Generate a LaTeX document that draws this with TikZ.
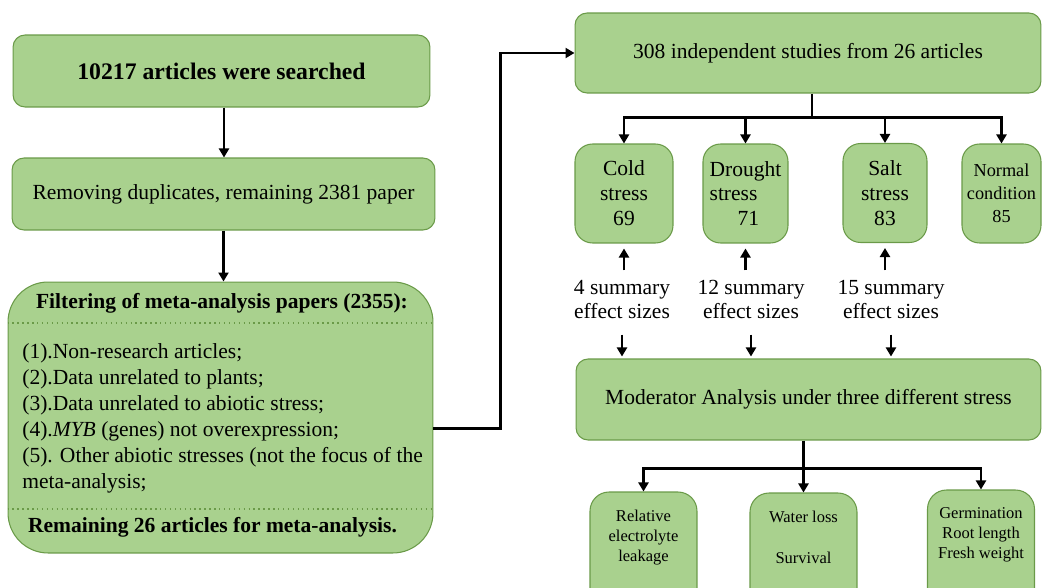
\documentclass[tikz,border=0pt]{standalone}
\usepackage{fontspec}
\setmainfont{Liberation Serif}
\usetikzlibrary{arrows.meta}
\definecolor{boxfill}{HTML}{A9D18E}
\definecolor{boxedge}{HTML}{6A9A48}
\tikzset{
    box/.style={draw=boxedge, fill=boxfill, line width=0.6pt, rounded corners=0.24cm, align=center, inner sep=0pt, font=\fontsize{12.25}{14.2}\selectfont},
    stressbox/.style={box, rounded corners=0.35cm, minimum height=1.98cm},
    leaf/.style={box, rounded corners=0.38cm, minimum width=2.14cm, minimum height=2.56cm},
    txt/.style={align=center, inner sep=0pt, font=\fontsize{12.25}{14.2}\selectfont},
    arr/.style={line width=1.2pt, -{Triangle[length=1.8mm, width=2mm]}},
    bus/.style={line width=1.6pt},
}
\begin{document}
\begin{tikzpicture}[x=0.02cm, y=-0.02cm]
        %\draw[lightgray] (0, 0) grid[step=50] (1042, 588);
        \path[use as bounding box, clip] (0, 0) rectangle (1042, 588);
        \node[box, minimum width=8.34cm, minimum height=1.44cm, font=\bfseries\fontsize{13.5}{16}\selectfont] (search) at (221.5, 71) {10217 articles were searched};
        \node[box, minimum width=8.46cm, minimum height=1.44cm] (dup) at (223.5, 194) {Removing duplicates, remaining 2381 paper};
        \node[box, rounded corners=0.8cm, minimum width=8.5cm, minimum height=5.42cm] (filter) at (220.5, 417.5) {};
        \draw[boxedge, dotted, line width=0.8pt] (filter.west |- 0, 323) -- (filter.east |- 0, 323);
        \draw[boxedge, dotted, line width=0.8pt] (filter.west |- 0, 509) -- (filter.east |- 0, 509);
        \node[txt, font=\bfseries\fontsize{12.25}{14}\selectfont] (filtertitle) at (222, 303) {Filtering of meta-analysis papers (2355):};
        \node[txt, align=left, anchor=west, font=\fontsize{12.25}{14.8}\selectfont] (filterlist) at (22, 418) {(1).Non-research articles;\\(2).Data unrelated to plants;\\(3).Data unrelated to abiotic stress;\\(4).\textit{MYB} (genes) not overexpression;\\(5). Other abiotic stresses (not the focus of the\\meta-analysis;};
        \node[txt, font=\bfseries\fontsize{12.25}{14}\selectfont] (remaining) at (212.5, 527) {Remaining 26 articles for meta-analysis.};
        \draw[arr] ([xshift=0.05cm]search.south) -- ([xshift=0.05cm]search.south |- dup.north);
        \draw[arr] (dup.south) -- (dup.south |- filter.north);

        \node[box, minimum width=9.32cm, minimum height=1.6cm] (studies) at (808, 53) {308 independent studies from 26 articles};
        \draw[arr] ([yshift=-0.22cm]filter.east) -- ++(67, 0) |- (studies.west);
        \node[stressbox, minimum width=1.96cm] (cold) at (624, 193.5) {Cold\\stress\\69};
        \node[stressbox, minimum width=1.7cm, align=left] (drought) at (745.5, 193.5) {Drought\\stress\\\hspace*{1.3em}71};
        \node[stressbox, minimum width=1.68cm] (salt) at (885, 193) {Salt\\stress\\83};
        \node[stressbox, minimum width=1.58cm, font=\fontsize{10.4}{13.1}\selectfont] (normal) at (1001.5, 193.5) {Normal\\condition\\85};
        \draw[bus] ([xshift=0.08cm]studies.south) -- ++(0, 24) coordinate (split);
        \foreach \n in {cold, drought, salt, normal}
            \draw[arr, line width=1.6pt] (split) -| (\n.north);

        \node[txt] (coldlab) at (622, 299.5) {4 summary\\effect sizes};
        \node[txt] (droughtlab) at (751, 299.5) {12 summary\\effect sizes};
        \node[txt] (saltlab) at (891, 299.5) {15 summary\\effect sizes};
        \node[box, minimum width=9.3cm, minimum height=1.62cm] (moderator) at (808.5, 399.5) {Moderator Analysis under three different stress};
        \foreach \n in {cold, drought, salt} {
            \draw[arr, line width=1.5pt, shorten <=0.18cm, shorten >=0.1cm] (\n.south |- \n lab.north) -- (\n.south);
            \draw[arr, line width=1.5pt, shorten <=0.3cm, shorten >=0.04cm] (\n lab.south) -- (\n lab.south |- moderator.north);
        }

        \node[leaf] (relbox) at (643.5, 556) {};
        \node[leaf] (waterbox) at (803.5, 557) {};
        \node[leaf] (germbox) at (981, 554) {};
        \node[txt, font=\fontsize{9.4}{11.4}\selectfont] (reltext) at (643.5, 538) {Relative\\electrolyte\\leakage};
        \node[txt, font=\fontsize{9.4}{11.4}\selectfont] (watertext) at (803.5, 537.5) {Water loss\\[11.9pt]Survival};
        \node[txt, font=\fontsize{9.4}{11.4}\selectfont] (germtext) at (981, 535) {Germination\\Root length\\Fresh weight};
        \draw[bus] ([xshift=-0.1cm]moderator.south) -- ++(0, 28) coordinate (split2);
        \foreach \n in {relbox, waterbox, germbox}
            \draw[arr, line width=1.6pt] (split2) -| (\n.north);
\end{tikzpicture}
\end{document}
